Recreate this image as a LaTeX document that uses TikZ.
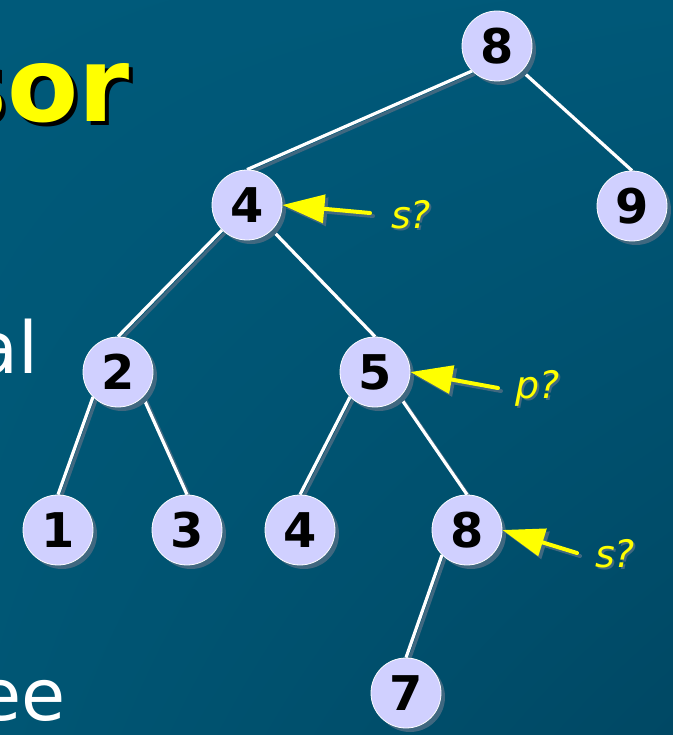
\documentclass[tikz,border=0pt]{standalone}
\usepackage{fontspec}
\setmainfont{DejaVu Sans}
\usetikzlibrary{arrows.meta,shadows,shadings,backgrounds}

\definecolor{nenTL}{RGB}{0,90,122}
\definecolor{nenTR}{RGB}{0,88,120}
\definecolor{nenBL}{RGB}{0,86,116}
\definecolor{nenBR}{RGB}{0,72,100}
\definecolor{tim}{RGB}{208,208,255}
\definecolor{bong}{RGB}{64,104,128}
\definecolor{vang}{RGB}{255,255,0}

% chữ có bóng đổ: #1 độ lệch, #2 màu bóng, #3 nội dung
\newcommand{\chubong}[3]{\makebox[0pt][l]{\hspace{#1}\raisebox{-#1}{\color{#2}#3}}#3}

\begin{document}
\begin{tikzpicture}[x=1bp, y=-1bp, line join=round, line cap=round,
	nut/.style={circle, fill=tim, draw=white, line width=0.8bp, minimum size=70bp, inner sep=0pt,
		font=\fontsize{48}{48}\selectfont\bfseries,
		drop shadow={shadow xshift=4bp, shadow yshift=-4bp, fill=bong, opacity=1}},
	canh/.style={draw=white, line width=3.2bp},
	muiten/.style={draw=vang, line width=4bp, -{Triangle[length=42bp,width=28bp]}},
	hoi/.style={text=vang, font=\fontsize{38}{38}\selectfont\itshape, inner sep=0pt, anchor=base west}]
	\useasboundingbox (0,0) rectangle (673,735);
	
	% 1. Các nút của cây
	\node[nut] (N8) at (497,46) {8};
	\node[nut] (N4) at (247,205) {4};
	\node[nut] (N9) at (632,206) {9};
	\node[nut] (N2) at (118,372) {2};
	\node[nut] (N5) at (375,372) {5};
	\node[nut] (N1) at (58,530) {1};
	\node[nut] (N3) at (187,530) {3};
	\node[nut] (N4b) at (300,530) {4};
	\node[nut] (N8b) at (467,530) {8};
	\node[nut] (N7) at (406,693) {7};
	
	% Chữ bị cắt bên trái
	\node[anchor=base east, inner sep=0pt, text=vang, font=\fontsize{104}{104}\selectfont\bfseries]
		(Tieude) at (130,122) {\chubong{4bp}{black}{sor}};
	\node[anchor=base east, inner sep=0pt, text=white, font=\fontsize{72}{72}\selectfont]
		(Dong1) at (39,373) {al};
	\node[anchor=base east, inner sep=0pt, text=white, font=\fontsize{72}{72}\selectfont]
		(Dong2) at (66,720) {ee};
	
	% 2. Nền và các cạnh (nằm dưới các nút)
	\begin{pgfonlayer}{background}
		\shade[upper left=nenTL, upper right=nenTR, lower left=nenBL, lower right=nenBR]
			(0,0) rectangle (673,735);
		\begin{scope}[transform canvas={xshift=3bp, yshift=-3bp}]
			\draw[canh, draw=bong] (N8.south west) -- (N4.north);
			\draw[canh, draw=bong] (N8.south east) -- (N9.north);
			\draw[canh, draw=bong] (N4.south west) -- (N2.north);
			\draw[canh, draw=bong] (N4.south east) -- (N5.north);
			\draw[canh, draw=bong] (N2.south west) -- (N1.north);
			\draw[canh, draw=bong] (N2.south east) -- (N3.north);
			\draw[canh, draw=bong] (N5.south west) -- (N4b.north);
			\draw[canh, draw=bong] (N5.south east) -- (N8b.north);
			\draw[canh, draw=bong] (N8b.south west) -- (N7.north);
		\end{scope}
		\draw[canh] (N8.south west) -- (N4.north);
		\draw[canh] (N8.south east) -- (N9.north);
		\draw[canh] (N4.south west) -- (N2.north);
		\draw[canh] (N4.south east) -- (N5.north);
		\draw[canh] (N2.south west) -- (N1.north);
		\draw[canh] (N2.south east) -- (N3.north);
		\draw[canh] (N5.south west) -- (N4b.north);
		\draw[canh] (N5.south east) -- (N8b.north);
		\draw[canh] (N8b.south west) -- (N7.north);
	\end{pgfonlayer}
	
	% 3. Các câu hỏi và mũi tên vàng
	\node[hoi] (S1) at (391,228) {\chubong{2bp}{bong}{s?}};
	\node[hoi] (P1) at (515,398) {\chubong{2bp}{bong}{p?}};
	\node[hoi] (S2) at (595,567) {\chubong{2bp}{bong}{s?}};
	\coordinate (T1) at (370,213);
	\coordinate (T2) at (498,388);
	\coordinate (T3) at (577,553);
	
	\begin{scope}[transform canvas={xshift=3bp, yshift=-3bp}]
		\draw[muiten, draw=bong, fill=bong] (T1) -- (N4.east);
		\draw[muiten, draw=bong, fill=bong] (T2) -- (N5.east);
		\draw[muiten, draw=bong, fill=bong] (T3) -- (N8b.east);
	\end{scope}
	\draw[muiten, fill=vang] (T1) -- (N4.east);
	\draw[muiten, fill=vang] (T2) -- (N5.east);
	\draw[muiten, fill=vang] (T3) -- (N8b.east);
\end{tikzpicture}
\end{document}
